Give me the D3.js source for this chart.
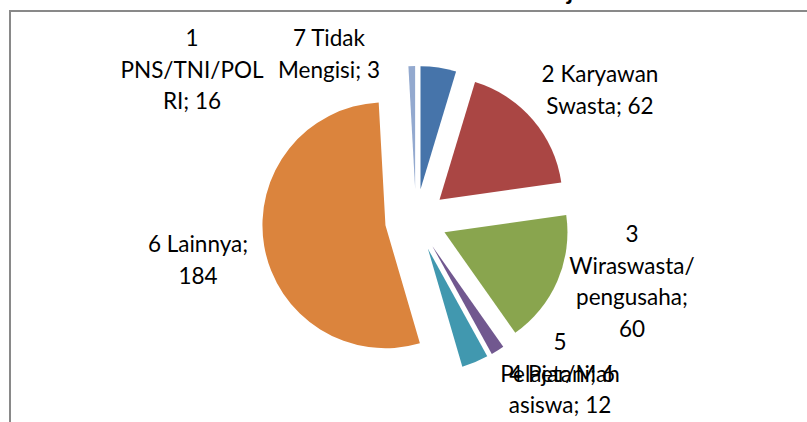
<!DOCTYPE html>
<html>
<head>
<meta charset="utf-8">
<script src="https://cdn.jsdelivr.net/npm/d3@7"></script>
<style>
  html, body { margin: 0; padding: 0; background: #fff; overflow: hidden; }
  svg { display: block; }
  .lbl { font-family: Lato, "Open Sans", sans-serif; font-size: 22.5px; fill: #000; }
</style>
</head>
<body>
<div id="chart"></div>
<script>
// pie data (order as in the source sheet)
var categories = ['1 PNS/TNI/POLRI', '2 Karyawan Swasta', '3 Wiraswasta/pengusaha',
                  '4 Petani', '5 Pelajar/Mahasiswa', '6 Lainnya', '7 Tidak Mengisi'];
var values = [16, 62, 60, 6, 12, 184, 3];
var colors = ['#4674AA', '#AA4644', '#89A54E', '#71588F', '#4198AF', '#DB843D', '#93A9CF'];

// data labels as wrapped in the picture
var labelLines = [
    ['1', 'PNS/TNI/POL', 'RI; 16'],
    ['2 Karyawan', 'Swasta; 62'],
    ['3', 'Wiraswasta/', 'pengusaha;', '60'],
    ['4 Petani; 6'],
    ['5', 'Pelajar/Mah', 'asiswa; 12'],
    ['6 Lainnya;', '184'],
    ['7 Tidak', 'Mengisi; 3']
];
// anchor (centre x, first baseline y) of each label block
var labelPos = [[192, 46], [600, 82], [632, 242], [562, 382], [560, 350], [198, 252], [329, 46]];

var title = 'Pekerjaan';

var width = 807, height = 422;
var cx = 416, cy = 220, radius = 123, explode = 31, lineH = 31.5;

var svg = d3.select('#chart').append('svg')
    .attr('width', width)
    .attr('height', height);

// chart area frame (runs off the right and bottom)
svg.append('rect')
    .attr('x', 10).attr('y', 11)
    .attr('width', 820).attr('height', 440)
    .attr('fill', '#fff')
    .attr('stroke', '#898989')
    .attr('stroke-width', 2);

// title, almost fully cut off by the top edge
var t = svg.append('text')
    .attr('y', 0)
    .style('font-family', 'Lato, sans-serif')
    .style('font-size', '24px')
    .style('font-weight', 'bold')
    .text(title);
var pre = t.node().getSubStringLength(0, 4);
t.attr('x', 558 - pre);

var pie = d3.pie().sort(null).value(function(d) { return d; });
var arc = d3.arc().innerRadius(0).outerRadius(radius);
var arcs = pie(values);

var g = svg.append('g').attr('transform', 'translate(' + cx + ',' + cy + ')');

g.selectAll('path.slice')
    .data(arcs)
    .enter().append('path')
    .attr('class', 'slice')
    .attr('fill', function(d, i) { return colors[i]; })
    .attr('transform', function(d) {
        var a = (d.startAngle + d.endAngle) / 2;
        return 'translate(' + (explode * Math.sin(a)) + ',' + (-explode * Math.cos(a)) + ')';
    })
    .attr('d', arc);

// labels
labelLines.forEach(function(lines, i) {
    var txt = svg.append('text')
        .attr('class', 'lbl')
        .attr('text-anchor', 'middle');
    lines.forEach(function(s, j) {
        txt.append('tspan')
            .attr('x', labelPos[i][0])
            .attr('y', labelPos[i][1] + j * lineH)
            .text(s);
    });
});
</script>
</body>
</html>
